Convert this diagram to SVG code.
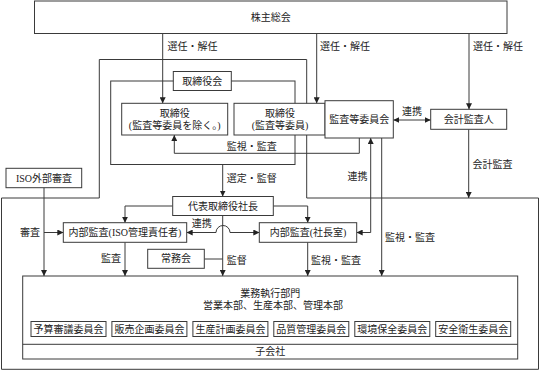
<svg xmlns="http://www.w3.org/2000/svg" width="541" height="371" viewBox="0 0 541 371">
<style>
text{font-family:"Liberation Serif","Noto Sans CJK JP",serif;font-size:10px;fill:#222;text-anchor:middle;dominant-baseline:central}
.box{fill:#fff;stroke:#3a3a3a;stroke-width:1}
.frame{fill:none;stroke:#3a3a3a;stroke-width:1}
.c{fill:none;stroke:#3a3a3a;stroke-width:1}
.a{marker-end:url(#ah)}
.d{marker-start:url(#ah);marker-end:url(#ah)}
.lbl{text-anchor:start}
</style>
<defs>
<marker id="ah" viewBox="0 0 10 10" refX="10" refY="5" markerWidth="6" markerHeight="6" markerUnits="userSpaceOnUse" orient="auto-start-reverse">
<path d="M0,0L10,5L0,10z" fill="#222"/>
</marker>
</defs>
<rect width="541" height="371" fill="#fff"/>
<g id="frames">
<path class="frame" d="M99.3,59.5H306.7V198H538.5V369.3H1.5V198H99.3Z"/>
<rect class="frame" x="110.7" y="81" width="184.3" height="83.5"/>
</g>
<g id="connectors">
<path class="c a" d="M162.7,33.5V103.3"/>
<path class="c a" d="M316.7,33.5V103.3"/>
<path class="c a" d="M469,33.5V109.3"/>
<path class="c d" d="M393.3,120H430.7"/>
<path class="c a" d="M359.3,138V153.3H174.3V135"/>
<path class="c a" d="M222.7,164.5V196.5"/>
<path class="c a" d="M468.7,129.3V198"/>
<path class="c d" d="M356.7,232.5H370.7V138"/>
<path class="c a" d="M381.7,138V276"/>
<path class="c a" d="M172.7,206H125V222.7"/>
<path class="c a" d="M273.3,206H307.7V222.7"/>
<path class="c a" d="M222.7,215.5V276"/>
<path class="c" d="M204.3,259H222.7"/>
<path class="c d" d="M186.7,232.5H216A7,7 0 0 1 230,232.5H259.3"/>
<path class="c a" d="M125,242.3V276"/>
<path class="c a" d="M307.7,242.3V276"/>
<path class="c a" d="M44,187.7V276"/>
<path class="c a" d="M44,232.5H63.3"/>
<text class="lbl" x="167.5" y="46.6">選任・解任</text>
<text class="lbl" x="320" y="46.6">選任・解任</text>
<text class="lbl" x="473" y="46.6">選任・解任</text>
<text x="412" y="111.5">連携</text>
<text x="251.7" y="146">監視・監査</text>
<text x="251.7" y="178.3">選定・監督</text>
<text x="492.5" y="164">会計監査</text>
<text x="357.5" y="176.7">連携</text>
<text x="410" y="237.3">監視・監査</text>
<text x="30" y="232.5">審査</text>
<text x="201.7" y="223.3">連携</text>
<text x="111" y="258.3">監査</text>
<text x="236.7" y="260">監督</text>
<text x="336" y="260">監視・監査</text>
</g>
<g id="shareholders">
<rect class="box" x="34.5" y="1" width="472.5" height="32.5"/>
<text x="270.7" y="17.3">株主総会</text>
</g>
<g id="board-label">
<rect class="box" x="173.3" y="71.5" width="58" height="19"/>
<text x="202.3" y="81">取締役会</text>
</g>
<g id="directors">
<rect class="box" x="121.7" y="103.3" width="106" height="31.7"/>
<text x="174.7" y="113.3">取締役</text>
<text x="174.7" y="125">(監査等委員を除く。)</text>
</g>
<g id="directors-ac">
<rect class="box" x="234" y="103.3" width="91" height="31.7"/>
<text x="280" y="113.3">取締役</text>
<text x="280" y="125">(監査等委員)</text>
</g>
<g id="audit-committee">
<rect class="box" x="325" y="100.7" width="68.3" height="37.3"/>
<text x="359.2" y="119.4">監査等委員会</text>
</g>
<g id="accounting-auditor">
<rect class="box" x="430.7" y="109.3" width="76" height="20"/>
<text x="468.7" y="119.3">会計監査人</text>
</g>
<g id="iso-external">
<rect class="box" x="6" y="168.3" width="75.7" height="19.4"/>
<text x="44" y="178">ISO外部審査</text>
</g>
<g id="president">
<rect class="box" x="172.7" y="196.5" width="100.6" height="19"/>
<text x="223" y="206">代表取締役社長</text>
</g>
<g id="internal-audit-iso">
<rect class="box" x="63.3" y="222.7" width="123.4" height="19.6"/>
<text x="125" y="232.5">内部監査(ISO管理責任者)</text>
</g>
<g id="internal-audit-office">
<rect class="box" x="259.3" y="222.7" width="97.4" height="19.6"/>
<text x="308" y="232.5">内部監査(社長室)</text>
</g>
<g id="executive-committee">
<rect class="box" x="147.7" y="249.3" width="56.6" height="19"/>
<text x="176" y="258.8">常務会</text>
</g>
<g id="operations">
<rect class="box" x="22.7" y="276" width="495" height="83"/>
<line class="c" x1="22.7" y1="344.3" x2="517.7" y2="344.3"/>
<text x="270.2" y="293.3">業務執行部門</text>
<text x="273" y="305">営業本部、生産本部、管理本部</text>
<text x="270.2" y="351.7">子会社</text>
</g>
<g id="committees">
<rect class="box" x="31" y="321.5" width="75" height="15"/>
<text x="68.5" y="329">予算審議委員会</text>
<rect class="box" x="111.9" y="321.5" width="75" height="15"/>
<text x="149.4" y="329">販売企画委員会</text>
<rect class="box" x="192.9" y="321.5" width="75" height="15"/>
<text x="230.4" y="329">生産計画委員会</text>
<rect class="box" x="273.8" y="321.5" width="75" height="15"/>
<text x="311.3" y="329">品質管理委員会</text>
<rect class="box" x="354.8" y="321.5" width="75" height="15"/>
<text x="392.3" y="329">環境保全委員会</text>
<rect class="box" x="435.7" y="321.5" width="75" height="15"/>
<text x="473.2" y="329">安全衛生委員会</text>
</g>
</svg>
